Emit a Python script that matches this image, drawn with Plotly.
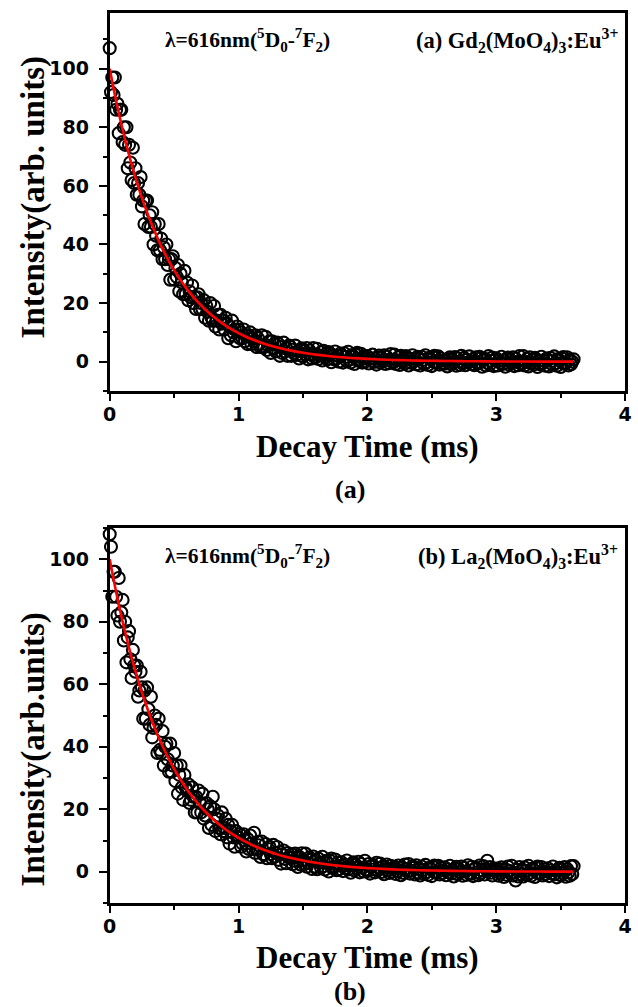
import plotly.graph_objects as go

# ---------------- data ----------------
# measured decay (sampled every 0.01 ms starting at 0 ms)
t_start = 0.0
t_step = 0.01

intensity_a = [
    107, 92, 97, 91, 97, 86, 88, 78, 86, 86, 75, 80, 74, 80, 66, 74, 68, 62, 73, 61,
    66, 57, 61, 57, 63, 53, 55, 47, 55, 55, 46, 50, 46, 51, 40, 47, 43, 38, 47, 38,
    42, 35, 39, 35, 40, 33, 35, 28, 35, 36, 28, 32, 29, 33, 24, 30, 27, 23, 31, 23,
    27, 21, 24, 22, 26, 20, 22, 18, 22, 23, 18, 20, 18, 21, 15, 19, 17, 14, 20, 15,
    14, 19, 12, 14, 16, 11, 16, 13, 14, 11, 15, 13, 8, 12, 9, 14, 10, 11, 7, 12,
    11, 8, 10, 8, 11, 7, 9, 6, 9, 10, 6, 8, 7, 9, 5, 8, 6, 5, 9, 5,
    5, 8.5, 4, 5.5, 7, 3, 7, 4.5, 6, 3.5, 6.5, 6, 2, 5, 3, 6.5, 3.5, 4.5, 2, 5.5,
    5.2, 2.0, 4.1, 2.9, 5.5, 2.3, 3.6, 1.1, 4.1, 4.6, 1.8, 3.7, 2.5, 4.7, 0.8, 3.8, 2.5, 1.1, 4.7, 1.6,
    1.6, 4.4, 0.9, 2.1, 3.2, 0.4, 3.7, 1.7, 2.6, 0.8, 3.3, 2.7, -0.2, 2.0, 0.8, 3.5, 1.1, 2.0, 0.0, 2.8,
    2.1, -0.3, 2.9, 1.6, 0.2, 3.4, 0.7, -0.3, 2.3, 1.6, -0.8, 2.4, 3.0, 0.3, 0.7, 2.7, -0.3, 1.8, 0.0, 1.0,
    1.9, -0.6, 1.2, 0.3, 2.4, -0.1, 1.0, -1.0, 1.5, 2.1, -0.3, 1.3, 0.4, 2.2, -0.8, 1.7, 0.6, -0.5, 2.6, 0.1,
    -0.2, 2.4, -0.8, 0.4, 1.5, -1.1, 2.0, 0.2, 1.1, -0.6, 1.9, 1.3, -1.3, 0.8, -0.4, 2.2, 0.1, 1.0, -0.9, 1.7,
    0.9, -1.3, 1.7, 0.6, -0.8, 2.2, -0.2, -1.1, 1.3, 0.8, -1.5, 1.5, 2.0, -0.4, 0.0, 1.8, -1.0, 1.1, -0.6, 0.4,
    -0.7, 0.4, -1.6, 0.9, 1.5, -0.9, 0.7, -0.2, 1.6, -1.4, 1.1, 0.0, -1.1, 2.0, -0.5, 1.3, -1.2, 0.6, -0.3, 1.8,
    0.1, -0.8, 0.8, -1.2, 1.5, -0.3, -0.6, 1.7, 1.2, -1.7, 0.5, 1.0, -1.3, -0.4, 1.9, -1.0, 0.3, 1.4, -1.5, 0.6,
    1.2, -1.3, 0.5, -0.4, 1.7, -0.8, 0.3, -1.7, 0.8, 1.4, -1.0, 0.6, -0.3, 1.5, -1.5, 1.0, -0.1, -1.2, 1.9, -0.6,
    -0.7, 1.9, -1.3, -0.1, 1.0, -1.6, 1.5, -0.4, 0.6, -1.0, 1.3, 0.8, -1.8, 0.2, -0.9, 1.7, -0.5, 0.4, -1.4, 1.1,
    0.6, -1.6, 1.3, 0.2, -1.1, 1.8, -0.5, -1.4, 0.9, 0.4, -1.8, 1.1, 1.6, -0.7, -0.4, 1.5, -1.3, 0.7, -0.9, 0.0, 0.8,
]

intensity_b = [
    108, 104, 88, 96, 96, 88, 82, 94, 80, 83, 87, 74, 80, 67, 75, 77, 68, 62, 71, 66,
    64, 66, 56, 58, 64, 59, 49, 58, 49, 59, 52, 47, 56, 43, 46, 50, 47, 38, 49, 39,
    38, 45, 34, 40, 41, 36, 32, 41, 32, 34, 38, 29, 34, 25, 31, 34, 27, 23, 31, 27,
    26, 28, 22, 23, 27, 24, 19, 24, 19, 26, 22, 19, 25, 17, 18, 22, 20, 14, 21, 15,
    24, 20, 13, 17, 18, 14, 12, 19, 13, 14, 17, 11, 15, 9, 13, 15, 11, 8, 13, 11,
    11, 12, 8, 9, 12, 10, 6.5, 10.5, 7.3, 11.6, 9, 7.3, 12.5, 6, 7.3, 9.6, 8.5, 4.7, 9.7, 5.6,
    5.6, 8.9, 4.3, 7.3, 8.0, 5.7, 4.3, 8.6, 4.8, 6.0, 7.9, 3.8, 6.3, 2.6, 5.6, 6.8, 4.1, 2.7, 6.0, 4.6,
    4.5, 5.6, 2.4, 3.5, 5.8, 4.5, 1.5, 4.8, 2.3, 5.9, 3.8, 2.5, 5.8, 1.6, 2.8, 4.6, 3.8, 0.9, 4.9, 1.7,
    3.6, 0.8, 4.2, 2.9, 1.3, 4.8, 1.8, 0.7, 3.5, 2.7, 0.1, 3.5, 4.2, 1.2, 1.7, 3.9, 0.5, 2.9, 0.8, 1.9,
    3.0, 0.2, 2.2, 1.2, 3.6, 0.7, 1.9, -0.3, 2.5, 3.0, 0.4, 2.2, 1.2, 3.2, -0.2, 2.5, 1.3, 0.1, 3.5, 0.7,
    0.2, 2.5, -0.6, 1.6, 2.2, 0.7, -0.2, 2.9, 0.4, 1.2, 2.6, -0.1, 1.7, -0.8, 1.4, 2.3, 0.5, -0.4, 1.9, 1.0,
    0.7, 1.6, -0.7, 0.2, 2.0, 1.1, -1.1, 1.4, -0.4, 2.3, 0.9, 0.0, 2.5, -0.6, 0.3, 1.8, 1.2, -0.9, 2.1, -0.2,
    0.9, -1.2, 1.7, 0.6, -0.7, 2.2, -0.1, -1.0, 1.3, 0.8, -1.4, 1.5, 2.0, -0.3, 0.0, 1.9, -0.9, 1.2, -0.5, 0.4,
    1.4, -1.1, 0.7, -0.2, 1.9, -0.6, 0.5, -1.5, 1.0, 1.6, -0.8, 0.8, -0.1, 1.7, -1.3, 1.2, 0.1, -1.0, 2.1, -0.4,
    -0.7, 1.6, -1.4, 0.7, 1.3, -0.2, -1.1, 2.0, -0.5, 0.4, 1.8, -0.9, 0.9, 3.5, 0.6, 1.5, -0.3, -1.2, 1.1, 0.2,
    0.1, 1.0, -1.3, -0.4, 1.4, 0.5, -1.7, 0.8, -1.0, 1.7, 0.3, -0.6, 1.9, -1.2, -0.3, -2.8, 0.6, -1.5, 1.5, -0.8,
    0.6, -1.5, 1.4, 0.3, -1.0, 1.9, -0.4, -1.3, 1.0, 0.5, -1.7, 1.2, 1.7, -0.6, -0.3, 1.5, -1.2, 0.8, -0.8, 0.1,
    1.1, -1.4, 0.5, -0.5, 1.7, -0.9, 0.3, -1.8, 0.8, 1.3, -1.1, 0.6, -0.4, 1.5, -1.6, 0.9, -0.2, -1.3, 1.8, -0.7, 1.8,
]

# exponential fit curves (red lines)
fit_time = [0.00, 0.05, 0.10, 0.15, 0.20, 0.25, 0.30, 0.35, 0.40, 0.45, 0.50, 0.55, 0.60, 0.65,
            0.70, 0.75, 0.80, 0.85, 0.90, 0.95, 1.00, 1.05, 1.10, 1.15, 1.20, 1.25, 1.30, 1.35,
            1.40, 1.45, 1.50, 1.55, 1.60, 1.65, 1.70, 1.75, 1.80, 1.85, 1.90, 1.95, 2.00, 2.10,
            2.20, 2.30, 2.40, 2.50, 2.60, 2.70, 2.80, 2.90, 3.00, 3.20, 3.40, 3.60]
fit_a = [100, 89.02, 79.25, 70.55, 62.81, 55.91, 49.78, 44.31, 39.45, 35.12, 31.26, 27.83, 24.78, 22.06,
         19.64, 17.48, 15.56, 13.85, 12.33, 10.98, 9.78, 8.70, 7.75, 6.90, 6.14, 5.47, 4.87, 4.33,
         3.86, 3.43, 3.06, 2.72, 2.42, 2.16, 1.92, 1.71, 1.52, 1.36, 1.21, 1.07, 0.96, 0.76,
         0.60, 0.48, 0.37, 0.30, 0.24, 0.19, 0.15, 0.12, 0.09, 0.06, 0.04, 0.02]
fit_b = [100, 89.48, 80.07, 71.65, 64.12, 57.38, 51.34, 45.94, 41.11, 36.79, 32.92, 29.46, 26.36, 23.59,
         21.11, 18.89, 16.90, 15.12, 13.53, 12.11, 10.84, 9.70, 8.68, 7.77, 6.95, 6.22, 5.56, 4.98,
         4.46, 3.99, 3.57, 3.19, 2.86, 2.56, 2.29, 2.05, 1.83, 1.64, 1.47, 1.31, 1.17, 0.94,
         0.75, 0.60, 0.48, 0.39, 0.31, 0.25, 0.20, 0.16, 0.13, 0.08, 0.05, 0.03]

x_ticks = [0, 1, 2, 3, 4]
y_ticks = [0, 20, 40, 60, 80, 100]
y_minor = [-10, 10, 30, 50, 70, 90, 110]
y_range_a = [-10, 119]
y_range_b = [-10, 110]
x_range = [0, 4]

W, H = 638, 1007

def px(x):
    return x / W

def py(y):
    return 1 - y / H

fig = go.Figure()

marker = dict(symbol="circle-open", size=12, color="black", line=dict(color="black", width=2.1))

fig.add_trace(go.Scatter(x0=t_start, dx=t_step, y=intensity_a, mode="markers", marker=marker,
                         xaxis="x", yaxis="y", showlegend=False, cliponaxis=False))
fig.add_trace(go.Scatter(x=fit_time, y=fit_a, mode="lines", line=dict(color="#ff0000", width=2.6, shape="spline"),
                         xaxis="x", yaxis="y", showlegend=False))
fig.add_trace(go.Scatter(x0=t_start, dx=t_step, y=intensity_b, mode="markers", marker=marker,
                         xaxis="x2", yaxis="y2", showlegend=False, cliponaxis=False))
fig.add_trace(go.Scatter(x=fit_time, y=fit_b, mode="lines", line=dict(color="#ff0000", width=2.6, shape="spline"),
                         xaxis="x2", yaxis="y2", showlegend=False))

tickfont = dict(family="DejaVu Sans", size=19, color="black", weight="bold")

def xaxis(anchor):
    return dict(domain=[px(105), px(632)], range=x_range, anchor=anchor, tickvals=x_ticks,
                showline=True, linecolor="black", linewidth=3, mirror=True,
                ticks="outside", ticklen=7, tickwidth=2, tickcolor="black",
                minor=dict(dtick=0.5, ticks="outside", ticklen=4, tickwidth=2, tickcolor="black"),
                showgrid=False, zeroline=False, tickfont=tickfont, ticklabeloverflow="allow",
                ticklabelstandoff=-3)

def yaxis(anchor, dom, rng):
    return dict(domain=dom, range=rng, anchor=anchor, tickvals=y_ticks,
                showline=True, linecolor="black", linewidth=3, mirror=True,
                ticks="outside", ticklen=8, tickwidth=2, tickcolor="black",
                minor=dict(tickvals=y_minor, ticks="outside", ticklen=4, tickwidth=2, tickcolor="black"),
                showgrid=False, zeroline=False, tickfont=tickfont, ticklabelstandoff=6,
                ticklabeloverflow="allow")

fig.update_layout(
    width=W, height=H,
    margin=dict(l=0, r=0, t=0, b=0),
    paper_bgcolor="white", plot_bgcolor="white",
    xaxis=xaxis("y"),
    yaxis=yaxis("x", [py(391), py(13)], y_range_a),
    xaxis2=xaxis("y2"),
    yaxis2=yaxis("x2", [py(903), py(528)], y_range_b),
)

serif = "Liberation Serif"
title_font = dict(family=serif, size=31, color="black", weight="bold")
ytitle_font = dict(family=serif, size=33, color="black", weight="bold")
lam_font = dict(family=serif, size=21.5, color="black", weight="bold")
form_font = dict(family=serif, size=22.5, color="black", weight="bold")
panel_font = dict(family=serif, size=26, color="black", weight="bold")

lam_text = "λ=616nm(<sup>5</sup>D<sub>0</sub>-<sup>7</sup>F<sub>2</sub>)"

ann = [
    dict(text="Intensity(arb. units)", x=px(27), y=py(197), textangle=-90, font=ytitle_font),
    dict(text="Decay Time (ms)", x=px(369), y=py(446), font=title_font),
    dict(text="(a)", x=px(351), y=py(489), font=panel_font),
    dict(text=lam_text, x=px(160), y=py(40), xanchor="left", font=lam_font),
    dict(text="(a) Gd<sub>2</sub>(MoO<sub>4</sub>)<sub>3</sub>:Eu<sup>3+</sup>", x=px(627), y=py(40),
         xanchor="right", font=form_font),
    dict(text="Intensity(arb.units)", x=px(27), y=py(749), textangle=-90, font=ytitle_font),
    dict(text="Decay Time (ms)", x=px(369), y=py(957), font=title_font),
    dict(text="(b)", x=px(351), y=py(991), font=panel_font),
    dict(text=lam_text, x=px(160), y=py(556), xanchor="left", font=lam_font),
    dict(text="(b) La<sub>2</sub>(MoO<sub>4</sub>)<sub>3</sub>:Eu<sup>3+</sup>", x=px(627), y=py(556),
         xanchor="right", font=form_font),
]
for a in ann:
    a.setdefault("xanchor", "center")
    a.update(xref="paper", yref="paper", yanchor="middle", showarrow=False)
    fig.add_annotation(**a)

fig.write_html("out.html", config={"displayModeBar": False},
               post_script="document.body.style.margin='0';document.body.style.overflow='hidden';")
